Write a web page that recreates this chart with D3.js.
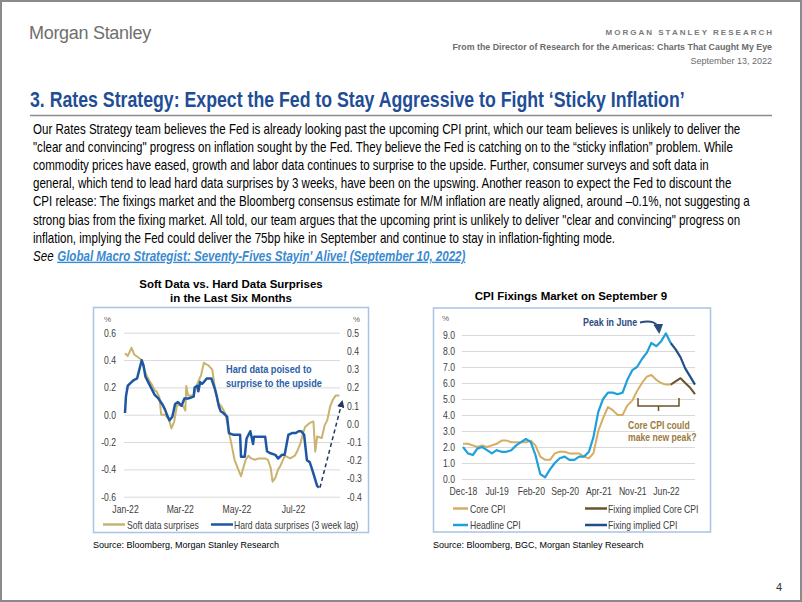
<!DOCTYPE html>
<html><head><meta charset="utf-8">
<script src="https://cdn.jsdelivr.net/npm/d3@7"></script>
<style>html,body{margin:0;padding:0;background:#fff;} svg{display:block;}</style>
</head><body>
<svg id="page" width="802" height="602"></svg>
<script>
// ---------------- DATA ----------------
const bodyLines = [
  "Our Rates Strategy team believes the Fed is already looking past the upcoming CPI print, which our team believes is unlikely to deliver the",
  "\"clear and convincing\" progress on inflation sought by the Fed. They believe the Fed is catching on to the \u201csticky inflation\u201d problem. While",
  "commodity prices have eased, growth and labor data continues to surprise to the upside. Further, consumer surveys and soft data in",
  "general, which tend to lead hard data surprises by 3 weeks, have been on the upswing. Another reason to expect the Fed to discount the",
  "CPI release: The fixings market and the Bloomberg consensus estimate for M/M inflation are neatly aligned, around \u20130.1%, not suggesting a",
  "strong bias from the fixing market. All told, our team argues that the upcoming print is unlikely to deliver \"clear and convincing\" progress on",
  "inflation, implying the Fed could deliver the 75bp hike in September and continue to stay in inflation-fighting mode."
];
const linkText = "Global Macro Strategist: Seventy-Fives Stayin' Alive! (September 10, 2022)";

// Left chart: soft data (left axis) and hard data (right axis)
const softDates = ["2022-01-01","2022-01-04","2022-01-08","2022-01-11","2022-01-15","2022-01-19","2022-01-22","2022-01-24","2022-01-28","2022-01-30","2022-02-02","2022-02-04","2022-02-07","2022-02-09","2022-02-13","2022-02-17","2022-02-20","2022-02-23","2022-02-26","2022-03-01","2022-03-05","2022-03-07","2022-03-08","2022-03-10","2022-03-16","2022-03-19","2022-03-24","2022-03-27","2022-04-01","2022-04-05","2022-04-08","2022-04-11","2022-04-15","2022-04-19","2022-04-22","2022-04-24","2022-04-27","2022-04-29","2022-05-03","2022-05-06","2022-05-08","2022-05-11","2022-05-14","2022-05-17","2022-05-21","2022-05-25","2022-05-28","2022-06-01","2022-06-04","2022-06-07","2022-06-09","2022-06-12","2022-06-15","2022-06-17","2022-06-21","2022-06-22","2022-06-28","2022-07-03","2022-07-06","2022-07-09","2022-07-12","2022-07-14","2022-07-19","2022-07-23","2022-07-25","2022-07-27","2022-08-01","2022-08-04","2022-08-07","2022-08-10","2022-08-13","2022-08-16","2022-08-20"];
const softValues = [0.45,0.43,0.49,0.44,0.42,0.40,0.33,0.29,0.24,0.22,0.18,0.17,0.13,0.00,0.00,-0.03,-0.10,-0.05,0.07,0.07,0.06,0.03,0.21,0.14,0.14,0.21,0.29,0.38,0.36,0.33,0.19,0.09,0.06,0.01,-0.09,-0.16,-0.26,-0.33,-0.40,-0.45,-0.40,-0.33,-0.30,-0.32,-0.33,-0.32,-0.32,-0.32,-0.33,-0.39,-0.49,-0.46,-0.40,-0.38,-0.32,-0.30,-0.32,-0.30,-0.26,-0.21,-0.13,-0.09,-0.06,-0.05,-0.27,-0.16,-0.17,-0.08,-0.04,0.06,0.11,0.14,0.14];
const hardDates = ["2022-01-01","2022-01-02","2022-01-04","2022-01-06","2022-01-10","2022-01-14","2022-01-16","2022-01-19","2022-01-21","2022-01-23","2022-01-26","2022-01-30","2022-02-02","2022-02-06","2022-02-10","2022-02-13","2022-02-16","2022-02-18","2022-02-21","2022-02-24","2022-02-27","2022-03-03","2022-03-06","2022-03-10","2022-03-16","2022-03-17","2022-03-20","2022-03-21","2022-03-23","2022-03-25","2022-03-27","2022-03-30","2022-04-04","2022-04-06","2022-04-08","2022-04-10","2022-04-12","2022-04-14","2022-04-17","2022-04-21","2022-04-23","2022-04-28","2022-05-03","2022-05-05","2022-05-06","2022-05-10","2022-05-12","2022-05-16","2022-05-19","2022-05-20","2022-05-23","2022-05-28","2022-06-01","2022-06-03","2022-06-06","2022-06-12","2022-06-15","2022-06-19","2022-06-22","2022-06-26","2022-06-30","2022-07-04","2022-07-07","2022-07-10","2022-07-13","2022-07-16","2022-07-19","2022-07-21","2022-07-24","2022-07-27","2022-07-29"];
const hardValues = [0.06,0.15,0.21,0.22,0.24,0.25,0.29,0.35,0.32,0.26,0.23,0.19,0.16,0.14,0.11,0.08,0.04,0.02,0.04,0.11,0.12,0.10,0.14,0.14,0.15,0.20,0.21,0.18,0.23,0.22,0.23,0.25,0.25,0.22,0.19,0.15,0.10,0.07,0.06,0.04,-0.05,-0.06,-0.06,-0.06,-0.18,-0.18,-0.08,-0.04,-0.11,-0.07,-0.07,-0.07,-0.07,-0.15,-0.16,-0.17,-0.19,-0.17,-0.17,-0.06,-0.05,-0.05,-0.04,-0.04,-0.06,-0.20,-0.21,-0.24,-0.29,-0.34,-0.35];
const leftTicksL = [-0.6,-0.4,-0.2,0,0.2,0.4,0.6];
const leftTicksR = [-0.4,-0.3,-0.2,-0.1,0,0.1,0.2,0.3,0.4,0.5];
const leftXTicks = ["2022-01-01","2022-03-01","2022-05-01","2022-07-01"];

// Right chart: CPI (monthly, % YoY)
const cpiMonths = ["2018-12","2019-01","2019-02","2019-03","2019-04","2019-05","2019-06","2019-07","2019-08","2019-09","2019-10","2019-11","2019-12","2020-01","2020-02","2020-03","2020-04","2020-05","2020-06","2020-07","2020-08","2020-09","2020-10","2020-11","2020-12","2021-01","2021-02","2021-03","2021-04","2021-05","2021-06","2021-07","2021-08","2021-09","2021-10","2021-11","2021-12","2022-01","2022-02","2022-03","2022-04","2022-05","2022-06","2022-07"];
const coreCPI = [2.2,2.2,2.1,2.0,2.1,2.0,2.1,2.2,2.4,2.4,2.3,2.3,2.3,2.3,2.4,2.1,1.4,1.2,1.2,1.6,1.7,1.7,1.6,1.6,1.6,1.4,1.3,1.6,3.0,3.8,4.5,4.3,4.0,4.0,4.6,4.9,5.5,6.0,6.4,6.5,6.2,6.0,5.9,5.9];
const headlineCPI = [2.0,1.6,1.5,1.9,2.0,1.8,1.6,1.8,1.7,1.7,1.8,2.1,2.3,2.5,2.3,1.5,0.3,0.1,0.6,1.0,1.3,1.4,1.2,1.2,1.4,1.4,1.7,2.6,4.2,5.0,5.4,5.4,5.3,5.4,6.2,6.8,7.0,7.5,7.9,8.5,8.3,8.6,9.1,8.5];
const fixingMonths = ["2022-07","2022-08","2022-09","2022-10","2022-11","2022-12"];
const fixingCore = [5.9,6.1,6.3,6.0,5.7,5.3];
const fixingHeadline = [8.5,8.1,7.6,6.9,6.4,5.9];
const cpiTicks = [0,1,2,3,4,5,6,7,8,9];
const cpiXTicks = ["2018-12","2019-07","2020-02","2020-09","2021-04","2021-11","2022-06"];

// ---------------- HELPERS ----------------
function fontOK(name){
  const ctx=document.createElement('canvas').getContext('2d');
  const s='abcdefghijklmnopqrstuvwxyzABCDEFGHIJ0123456789';
  ctx.font='40px monospace'; const a=ctx.measureText(s).width;
  ctx.font='40px "'+name+'", monospace'; const b=ctx.measureText(s).width;
  return Math.abs(a-b)>0.5;
}
const HAS_NARROW = fontOK('Liberation Sans Narrow');
const SANS = '"Liberation Sans", Arial, Helvetica, sans-serif';
function narrow(sel){
  if(HAS_NARROW){
    sel.style('font-family','"Liberation Sans Narrow", "Arial Narrow", sans-serif').each(function(){
      const L=this.getComputedTextLength();
      d3.select(this).attr('textLength',L.toFixed(2)).attr('lengthAdjust','spacingAndGlyphs');
    });
  } else {
    sel.style('font-family',SANS).each(function(){
      const L=this.getComputedTextLength();
      d3.select(this).attr('textLength',(L*0.82).toFixed(2)).attr('lengthAdjust','spacingAndGlyphs');
    });
  }
  return sel;
}
function txt(p,x,y,s,o={}){
  const t=p.append('text').attr('x',x).attr('y',y).text(s)
    .style('font-family',SANS).style('font-size',(o.size||10)+'px')
    .attr('fill',o.fill||'#000');
  if(o.anchor) t.attr('text-anchor',o.anchor);
  if(o.weight) t.style('font-weight',o.weight);
  if(o.style) t.style('font-style',o.style);
  if(o.deco) t.style('text-decoration',o.deco);
  if(o.ls!=null) t.style('letter-spacing',o.ls+'px');
  if(o.narrow) narrow(t);
  return t;
}

const svg = d3.select('#page');
const defs = svg.append('defs');
function marker(id,color){
  defs.append('marker').attr('id',id).attr('viewBox','0 0 10 10').attr('refX',7).attr('refY',5)
    .attr('markerWidth',5).attr('markerHeight',5).attr('orient','auto-start-reverse')
    .append('path').attr('d','M0,0L10,5L0,10z').attr('fill',color);
}
marker('arrNavy','#1f3864');
marker('arrPeak','#2b4b80');

svg.append('rect').attr('x',0).attr('y',0).attr('width',802).attr('height',602).attr('fill','#fff');
svg.append('rect').attr('x',1).attr('y',1).attr('width',800).attr('height',600).attr('fill','none').attr('stroke','#8a8a8a').attr('stroke-width',2);

// ---------------- HEADER ----------------
txt(svg,29,39,'Morgan Stanley',{size:18,fill:'#6f6f6f',ls:-0.3});
txt(svg,774,35,'MORGAN STANLEY RESEARCH',{size:8,fill:'#7a7a7a',weight:'bold',anchor:'end',ls:2});
txt(svg,772,50,'From the Director of Research for the Americas: Charts That Caught My Eye',{size:8.85,fill:'#6b6b6b',weight:'bold',anchor:'end'});
txt(svg,772,64,'September 13, 2022',{size:9,fill:'#6b6b6b',anchor:'end'});

// ---------------- TITLE ----------------
txt(svg,30,107,'3. Rates Strategy: Expect the Fed to Stay Aggressive to Fight \u2018Sticky Inflation\u2019',{size:21.6,fill:'#1f4e96',weight:'bold',narrow:true});
svg.append('line').attr('x1',30).attr('x2',772).attr('y1',115.5).attr('y2',115.5).attr('stroke','#8c8c8c').attr('stroke-width',1.5);

// ---------------- BODY ----------------
bodyLines.forEach((s,i)=>{ txt(svg,33,134+18.1*i,s,{size:14.1,fill:'#000',narrow:true}); });
{
  const yS = 134+18.1*7;
  const see = txt(svg,33,yS,'See',{size:14.1,style:'italic',narrow:true});
  const w = see.node().getComputedTextLength();
  txt(svg,33+w+3.6,yS,linkText,{size:14.1,style:'italic',weight:'bold',fill:'#3a8ad0',deco:'underline',narrow:true});
}

// ---------------- LEFT CHART ----------------
const L = svg.append('g');
txt(L,231,287.5,'Soft Data vs. Hard Data Surprises',{size:11.5,weight:'bold',anchor:'middle'});
txt(L,231,302,'in the Last Six Months',{size:11.5,weight:'bold',anchor:'middle'});
L.append('rect').attr('x',93.5).attr('y',307.5).attr('width',275).attr('height',225).attr('fill','none').attr('stroke','#a8c4e2').attr('stroke-width',1.5);

const pDay = d3.timeParse('%Y-%m-%d');
const xL = d3.scaleTime().domain([pDay('2022-01-01'),pDay('2022-08-20')]).range([125,339.4]);
const yLL = d3.scaleLinear().domain([-0.6,0.6]).range([496.7,332.7]);
const yLR = d3.scaleLinear().domain([-0.4,0.5]).range([496.7,333]);
const fmt1 = d=>d.toFixed(1);

const gL = L.append('g').attr('transform','translate(124,0)')
  .call(d3.axisLeft(yLL).tickValues(leftTicksL).tickSize(-216).tickPadding(8).tickFormat(fmt1));
gL.select('.domain').remove();
gL.selectAll('.tick line').attr('stroke','#d9d9d9').attr('stroke-width',1);
gL.selectAll('.tick text').attr('fill','#404040').style('font-size','10.5px').call(narrow);

const gR = L.append('g').attr('transform','translate(340,0)')
  .call(d3.axisRight(yLR).tickValues(leftTicksR).tickSize(0).tickPadding(7).tickFormat(fmt1));
gR.select('.domain').remove();
gR.selectAll('.tick text').attr('fill','#404040').style('font-size','10.5px').call(narrow);

const gX = L.append('g').attr('transform','translate(0,497)')
  .call(d3.axisBottom(xL).tickValues(leftXTicks.map(pDay)).tickSize(0).tickPadding(9).tickFormat(d3.timeFormat('%b-%y')));
gX.select('.domain').remove();
gX.selectAll('.tick text').attr('fill','#404040').style('font-size','10.5px').call(narrow);

txt(L,104,321.5,'%',{size:8,fill:'#666'});
txt(L,353,321.5,'%',{size:8,fill:'#666'});

const softData = softDates.map((d,i)=>({d:pDay(d),v:softValues[i]}));
const hardData = hardDates.map((d,i)=>({d:pDay(d),v:hardValues[i]}));
L.append('path').datum(softData).attr('fill','none').attr('stroke','#c9b36e').attr('stroke-width',2).attr('stroke-linejoin','round')
  .attr('d',d3.line().x(d=>xL(d.d)).y(d=>yLL(d.v)));
L.append('path').datum(hardData).attr('fill','none').attr('stroke','#1d57a3').attr('stroke-width',2.5).attr('stroke-linejoin','round')
  .attr('d',d3.line().x(d=>xL(d.d)).y(d=>yLR(d.v)));

// dashed arrow from last hard point upward
{
  const last = hardData[hardData.length-1];
  L.append('line').attr('x1',xL(last.d)+1).attr('y1',yLR(last.v)).attr('x2',342).attr('y2',yLR(0.12))
    .attr('stroke','#1f3864').attr('stroke-width',1.5).attr('stroke-dasharray','4,3').attr('marker-end','url(#arrNavy)');
}
txt(L,226,373,'Hard data poised to',{size:11.2,weight:'bold',fill:'#2c5fa9',narrow:true});
txt(L,226,386.5,'surprise to the upside',{size:11.2,weight:'bold',fill:'#2c5fa9',narrow:true});

// legend
L.append('line').attr('x1',103).attr('x2',125).attr('y1',524.5).attr('y2',524.5).attr('stroke','#c9b36e').attr('stroke-width',2.5);
txt(L,127,528.5,'Soft data surprises',{size:10.5,fill:'#404040',narrow:true});
L.append('line').attr('x1',211).attr('x2',233).attr('y1',524.5).attr('y2',524.5).attr('stroke','#1d57a3').attr('stroke-width',2.5);
txt(L,234,528.5,'Hard data surprises (3 week lag)',{size:10.5,fill:'#404040',narrow:true});

txt(svg,93,548,'Source: Bloomberg, Morgan Stanley Research',{size:9,fill:'#000'});

// ---------------- RIGHT CHART ----------------
const R = svg.append('g');
txt(R,571,300,'CPI Fixings Market on September 9',{size:11.5,weight:'bold',anchor:'middle'});
R.append('rect').attr('x',433.5).attr('y',308).attr('width',277).attr('height',224).attr('fill','none').attr('stroke','#a8c4e2').attr('stroke-width',1.5);

const pMon = d3.timeParse('%Y-%m');
const xR = d3.scaleTime().domain([pMon('2018-12'),pMon('2022-12')]).range([463,695]);
const yR = d3.scaleLinear().domain([0,9]).range([479,335]);

const gRY = R.append('g').attr('transform','translate(462,0)')
  .call(d3.axisLeft(yR).tickValues(cpiTicks).tickSize(-233).tickPadding(7).tickFormat(fmt1));
gRY.select('.domain').remove();
gRY.selectAll('.tick line').attr('stroke','#d9d9d9').attr('stroke-width',1);
gRY.selectAll('.tick text').attr('fill','#404040').style('font-size','10.5px').call(narrow);

const gRX = R.append('g').attr('transform','translate(0,480)')
  .call(d3.axisBottom(xR).tickValues(cpiXTicks.map(pMon)).tickSize(0).tickPadding(8).tickFormat(d3.timeFormat('%b-%y')));
gRX.select('.domain').remove();
gRX.selectAll('.tick text').attr('fill','#404040').style('font-size','10.5px').call(narrow);

txt(R,442,321,'%',{size:8,fill:'#666'});

const lineR = d3.line().x(d=>xR(d.d)).y(d=>yR(d.v));
const mk = (ms,vs)=>ms.map((m,i)=>({d:pMon(m),v:vs[i]}));
const cCore='#d5ad63', cFixCore='#6b532c', cHead='#1fa0dc', cFixHead='#1f4f8a';
R.append('path').datum(mk(cpiMonths,coreCPI)).attr('fill','none').attr('stroke',cCore).attr('stroke-width',2).attr('stroke-linejoin','round').attr('d',lineR);
R.append('path').datum(mk(fixingMonths,fixingCore)).attr('fill','none').attr('stroke',cFixCore).attr('stroke-width',2).attr('stroke-linejoin','round').attr('d',lineR);
R.append('path').datum(mk(cpiMonths,headlineCPI)).attr('fill','none').attr('stroke',cHead).attr('stroke-width',2.2).attr('stroke-linejoin','round').attr('d',lineR);
R.append('path').datum(mk(fixingMonths,fixingHeadline)).attr('fill','none').attr('stroke',cFixHead).attr('stroke-width',2.2).attr('stroke-linejoin','round').attr('d',lineR);

// annotations
txt(R,583,326,'Peak in June',{size:10.8,weight:'bold',fill:'#2b4b80',narrow:true});
R.append('path').attr('d','M640,322.5 C651,320 658,322 659,331').attr('fill','none').attr('stroke','#2b4b80').attr('stroke-width',2).attr('marker-end','url(#arrPeak)');
R.append('path').attr('d','M638,398 V406 H679 V398 M658.5,406 V411').attr('fill','none').attr('stroke','#6b532c').attr('stroke-width',1.5);
txt(R,628,429,'Core CPI could',{size:10.5,weight:'bold',fill:'#9c7b3d',narrow:true});
txt(R,628,441,'make new peak?',{size:10.5,weight:'bold',fill:'#9c7b3d',narrow:true});

// legend
const legR = [
  {x:453,y:508.5,c:cCore,t:'Core CPI'},
  {x:585,y:508.5,c:cFixCore,t:'Fixing implied Core CPI'},
  {x:453,y:525,c:cHead,t:'Headline CPI'},
  {x:585,y:525,c:cFixHead,t:'Fixing implied CPI'}
];
legR.forEach(l=>{
  R.append('line').attr('x1',l.x).attr('x2',l.x+(l.x>500?22:15)).attr('y1',l.y).attr('y2',l.y).attr('stroke',l.c).attr('stroke-width',2.5);
  txt(R,l.x+(l.x>500?23:17),l.y+4,l.t,{size:10.5,fill:'#404040',narrow:true});
});

txt(svg,433,548,'Source: Bloomberg, BGC, Morgan Stanley Research',{size:9,fill:'#000'});

txt(svg,776,591,'4',{size:11,fill:'#333'});
</script>
</body></html>
